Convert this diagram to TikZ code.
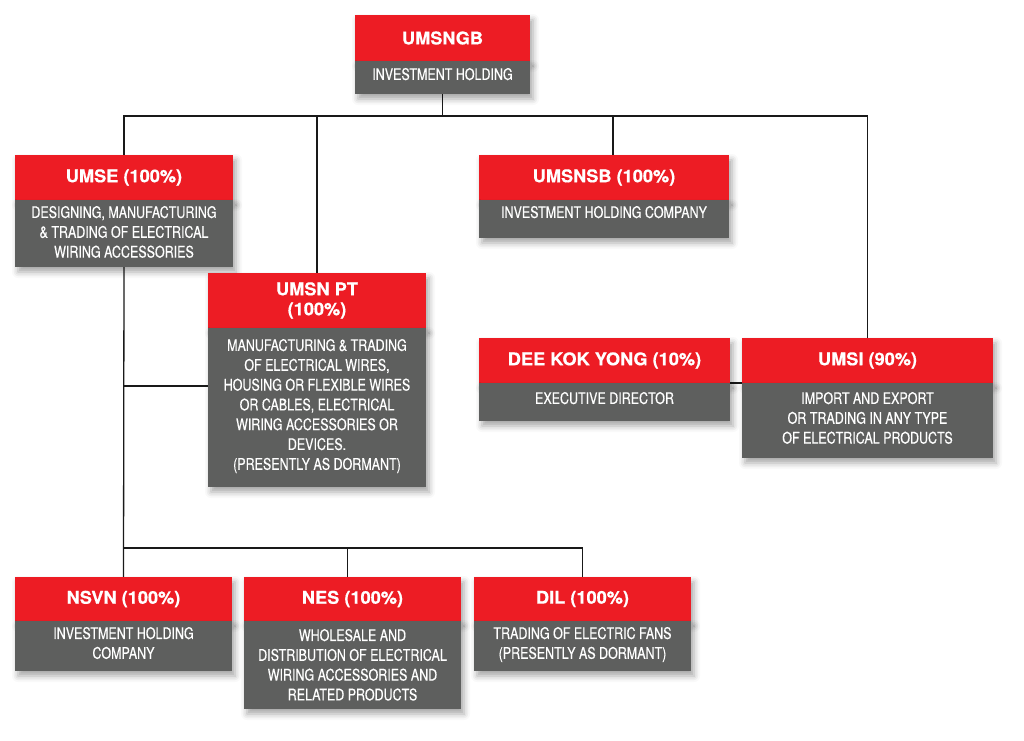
\documentclass[tikz,border=0pt]{standalone}
\usepackage{fontspec}
\setmainfont{TeX Gyre Heros}
\newfontfamily\bodyfont{TeX Gyre Heros}[FakeStretch=0.78,FakeBold=0.4]
\newfontfamily\headfont{TeX Gyre Heros}[FakeStretch=1.04,FakeBold=0.5]
\usetikzlibrary{shadows.blur,backgrounds}
\definecolor{umred}{HTML}{ED1C24}
\definecolor{umgrey}{HTML}{5E5F5E}
\tikzset{
  boxshadow/.style={blur shadow={shadow xshift=3pt, shadow yshift=-5pt, shadow blur radius=6pt, shadow opacity=35}},
  hdr/.style={fill=umred, text=white, font=\headfont\bfseries\fontsize{17.5}{20}\selectfont, align=center, inner sep=0pt, outer sep=0pt, anchor=north west, boxshadow},
  bdy/.style={fill=umgrey, text=white, inner sep=0pt, outer sep=0pt, anchor=north west, boxshadow},
  link/.style={draw=black!90, line width=1.3pt}
}
% name, x, y, width, header height, body height, top pad, header, body
\newcommand\orgbox[9]{%
  \node[hdr, minimum width=#4pt, minimum height=#5pt] (#1) at (#2,#3) {#8};
  \node[bdy] (#1B) at (#1.south west) {\parbox[c][#6pt][t]{#4pt}{\centering\bodyfont\fontsize{16}{19.8}\selectfont\vspace*{#7pt}#9}};
}
\begin{document}
\begin{tikzpicture}[x=1pt,y=-1pt]
\useasboundingbox (0,0) rectangle (1024,740);
\orgbox{umsngb}{355}{15}{175}{46}{33}{7}{UMSNGB}{INVESTMENT HOLDING}
\orgbox{umse}{15}{155}{218}{45}{67}{6}{UMSE (100\%)}{DESIGNING, MANUFACTURING\\\& TRADING OF ELECTRICAL\\WIRING ACCESSORIES}
\orgbox{umsnsb}{479}{155}{250}{45}{38}{6}{UMSNSB (100\%)}{INVESTMENT HOLDING COMPANY}
\orgbox{umsnpt}{208}{273}{218}{55}{159}{11}{UMSN PT\\(100\%)}{MANUFACTURING \& TRADING\\OF ELECTRICAL WIRES,\\HOUSING OR FLEXIBLE WIRES\\OR CABLES, ELECTRICAL\\WIRING ACCESSORIES OR\\DEVICES.\\(PRESENTLY AS DORMANT)}
\orgbox{dee}{479}{338}{251}{45}{38}{9}{DEE KOK YONG (10\%)}{EXECUTIVE DIRECTOR}
\orgbox{umsi}{742}{338}{251}{45}{75}{9}{UMSI (90\%)}{IMPORT AND EXPORT\\OR TRADING IN ANY TYPE\\OF ELECTRICAL PRODUCTS}
\orgbox{nsvn}{15}{577}{217}{44}{50}{6}{NSVN (100\%)}{INVESTMENT HOLDING\\COMPANY}
\orgbox{nes}{244}{577}{217}{44}{88}{8}{NES (100\%)}{WHOLESALE AND\\DISTRIBUTION OF ELECTRICAL\\WIRING ACCESSORIES AND\\RELATED PRODUCTS}
\orgbox{dil}{474}{577}{217}{44}{50}{6}{DIL (100\%)}{TRADING OF ELECTRIC FANS\\(PRESENTLY AS DORMANT)}
\begin{scope}[on background layer]
  \path (umsngbB.south) ++(0,22) coordinate (barTop);
  \coordinate (nsbTop) at ([xshift=9pt]umsnsb.north);
  \coordinate (ptJoin) at ([yshift=-58pt]umsnptB.north west);
  \coordinate (botBar) at ([yshift=29pt]nsvn.north);
  \coordinate (nesTop) at ([xshift=-5pt]nes.north);
  \draw[link] (umsngbB.south) -- (barTop);
  \draw[link] (umse.north) |- (barTop) -| (umsi.north);
  \draw[link] (umsnpt.north) -- (umsnpt.north |- barTop);
  \draw[link] (nsbTop) -- (nsbTop |- barTop);
  \draw[link] (umseB.south) -- (nsvn.north);
  \draw[link] (ptJoin) -- (ptJoin -| umseB.south);
  \draw[link] (botBar) -| (nesTop);
  \draw[link] (botBar) -| (dil.north);
  \draw[link] (deeB.north east) -- (umsiB.north west);
\end{scope}
\end{tikzpicture}
\end{document}
